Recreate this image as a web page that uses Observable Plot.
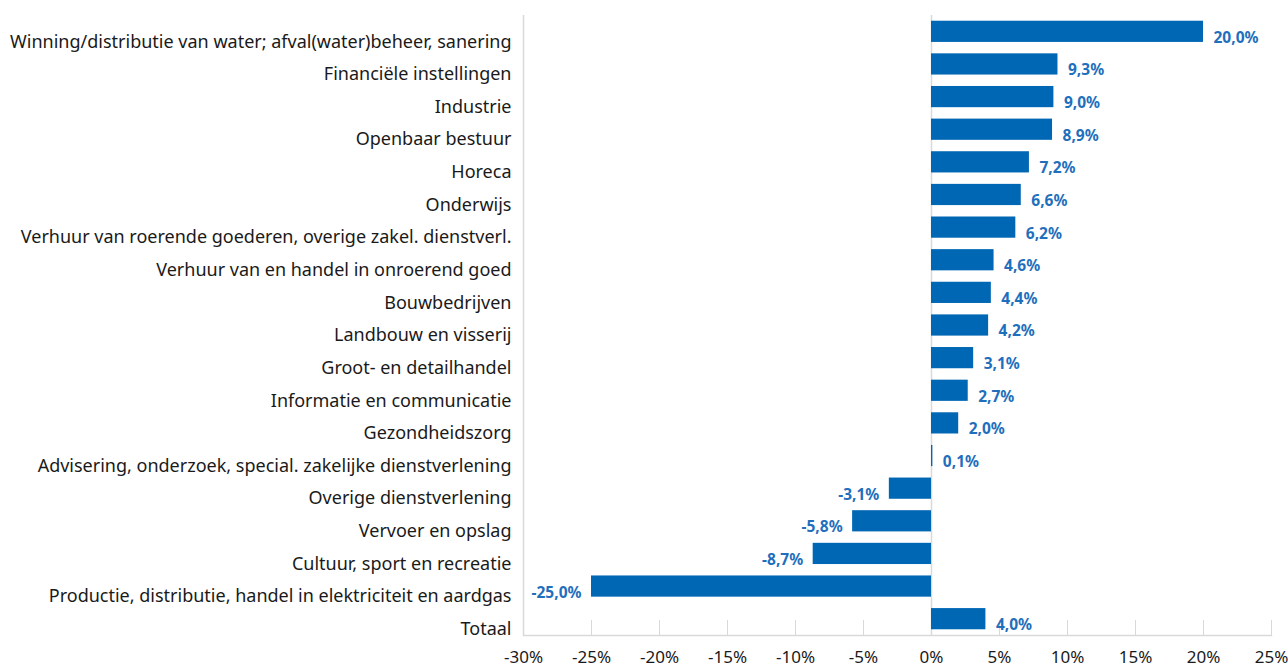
<!DOCTYPE html>
<html>
<head>
<meta charset="utf-8">
<script src="https://cdn.jsdelivr.net/npm/d3@7"></script>
<script src="https://cdn.jsdelivr.net/npm/@observablehq/plot@0.6"></script>
<style>
  html, body { margin: 0; padding: 0; background: #ffffff; }
  #chart { width: 1288px; height: 667px; }
</style>
</head>
<body>
<div id="chart"></div>
<script>
const categories = [
  "Winning/distributie van water; afval(water)beheer, sanering",
  "Financiële instellingen",
  "Industrie",
  "Openbaar bestuur",
  "Horeca",
  "Onderwijs",
  "Verhuur van roerende goederen, overige zakel. dienstverl.",
  "Verhuur van en handel in onroerend goed",
  "Bouwbedrijven",
  "Landbouw en visserij",
  "Groot- en detailhandel",
  "Informatie en communicatie",
  "Gezondheidszorg",
  "Advisering, onderzoek, special. zakelijke dienstverlening",
  "Overige dienstverlening",
  "Vervoer en opslag",
  "Cultuur, sport en recreatie",
  "Productie, distributie, handel in elektriciteit en aardgas",
  "Totaal"
];
const values = [20.0, 9.3, 9.0, 8.9, 7.2, 6.6, 6.2, 4.6, 4.4, 4.2, 3.1, 2.7, 2.0, 0.1, -3.1, -5.8, -8.7, -25.0, 4.0];
const xTicks = [-30, -25, -20, -15, -10, -5, 0, 5, 10, 15, 20, 25];

const data = categories.map((c, i) => ({category: c, value: values[i]}));
const fmtValue = d => d.value.toFixed(1).replace(".", ",") + "%";
const fmtTick = d => `${d}%`;

const barColor = "#0067b4";
const labelColor = "#1f6fbd";
const gridColor = "#d9d9d9";

const chart = Plot.plot({
  width: 1288,
  height: 667,
  marginLeft: 523,
  marginRight: 17,
  marginTop: 15,
  marginBottom: 32,
  style: {fontFamily: "'Noto Sans', sans-serif", fontSize: "16px", background: "#ffffff", color: "#1a1a1a"},
  x: {domain: [-30, 25], label: null},
  y: {domain: categories, paddingInner: 0.35, paddingOuter: 0.175, round: false, label: null},
  marks: [
    Plot.ruleX([-30], {stroke: gridColor, strokeWidth: 1.5}),
    Plot.ruleX([0], {stroke: gridColor, strokeWidth: 1.5}),
    Plot.frame({anchor: "bottom", stroke: gridColor, strokeWidth: 1.5}),
    Plot.vector(xTicks, {
      x: d => d, frameAnchor: "bottom", length: 15, anchor: "start",
      stroke: gridColor, strokeWidth: 1,
      shape: {draw(ctx, l) { ctx.moveTo(0, 0); ctx.lineTo(0, -l); }}
    }),
    Plot.barX(data, {x: "value", y: "category", fill: barColor}),
    Plot.text(data.filter(d => d.value >= 0), {
      x: "value", y: "category", text: fmtValue, textAnchor: "start", dx: 10, dy: 6,
      fill: labelColor, fontWeight: "bold", fontSize: 15.5
    }),
    Plot.text(data.filter(d => d.value < 0), {
      x: "value", y: "category", text: fmtValue, textAnchor: "end", dx: -10, dy: 6,
      fill: labelColor, fontWeight: "bold", fontSize: 15.5
    }),
    Plot.axisX({ticks: xTicks, tickFormat: fmtTick, tickSize: 0, tickPadding: 15, fontSize: 17, label: null}),
    Plot.axisY({tickSize: 0, tickPadding: 12, dy: 10, fontSize: 18, label: null})
  ]
});
document.getElementById("chart").appendChild(chart);
</script>
</body>
</html>
